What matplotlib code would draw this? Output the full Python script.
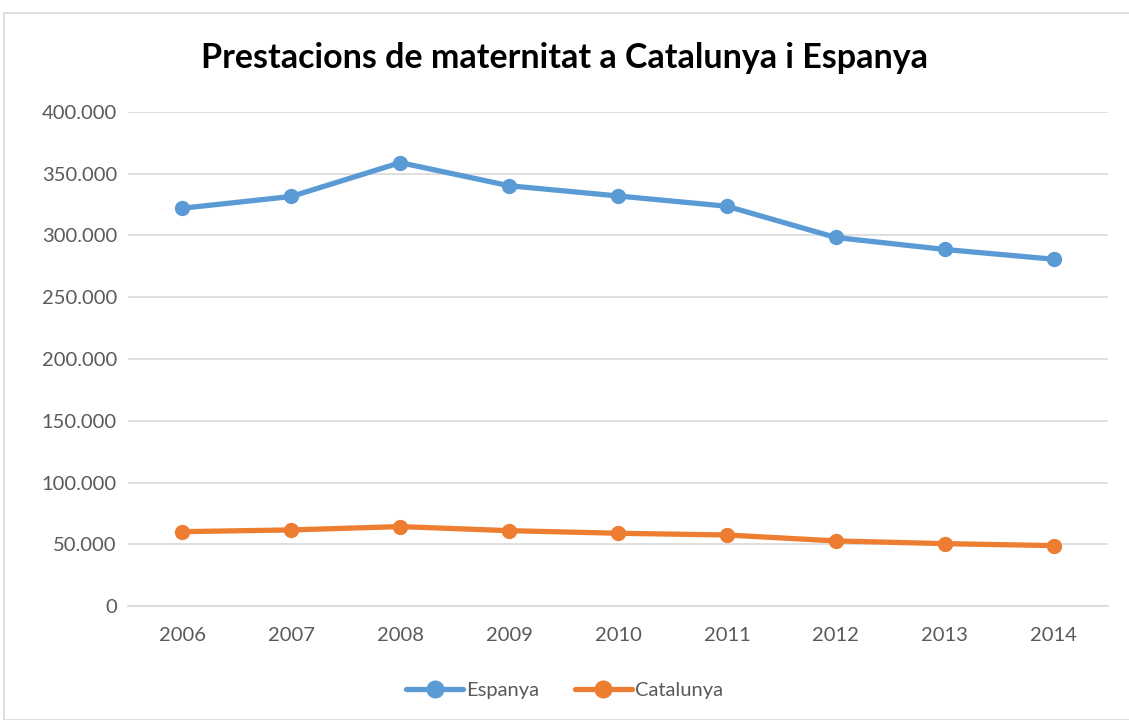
import matplotlib.pyplot as plt
from matplotlib.patches import Rectangle
from matplotlib.ticker import FuncFormatter

years = [2006, 2007, 2008, 2009, 2010, 2011, 2012, 2013, 2014]
espanya = [322100, 331600, 359000, 340300, 332000, 323700, 298400, 288700, 280800]
catalunya = [60200, 61600, 64300, 61000, 58900, 57500, 52700, 50500, 48900]

plt.rcParams['font.family'] = ['Lato', 'DejaVu Sans']

fig = plt.figure(figsize=(11.29, 7.2), dpi=100)
fig.patches.append(Rectangle((4 / 1129, 0), 1.2, 1 - 13 / 720, transform=fig.transFigure,
                             fill=False, edgecolor='#D9D9D9', linewidth=1.2))

ax = fig.add_axes([128 / 1129, 114 / 720, 980 / 1129, 494 / 720])
x = list(range(len(years)))
ax.plot(x, espanya, color='#5B9BD5', lw=3.8, marker='o', ms=10, label='Espanya', solid_capstyle='round')
ax.plot(x, catalunya, color='#ED7D31', lw=3.8, marker='o', ms=10, label='Catalunya', solid_capstyle='round')

ax.set_xlim(-0.5, len(years) - 0.5)
ax.set_ylim(0, 400000)
ax.set_yticks(range(0, 400001, 50000))
ax.yaxis.set_major_formatter(FuncFormatter(lambda v, p: f'{int(v):,}'.replace(',', '.')))
ax.set_xticks(x)
ax.set_xticklabels([str(y) for y in years])
ax.grid(axis='y', color='#D9D9D9', lw=1.2)
ax.set_axisbelow(True)
for s in ['top', 'right', 'left']:
    ax.spines[s].set_visible(False)
ax.spines['bottom'].set_color('#D9D9D9')
ax.spines['bottom'].set_linewidth(1.2)
ax.tick_params(length=0, labelsize=14.5, colors='#595959')
ax.tick_params(axis='x', pad=15)
ax.tick_params(axis='y', pad=8)

fig.text(0.5, 1 - 58 / 720, 'Prestacions de maternitat a Catalunya i Espanya',
         ha='center', va='center', fontsize=24.5, fontweight='bold', color='black')

fig.legend(loc='center', bbox_to_anchor=(0.5, 1 - 690 / 720), ncol=2, frameon=False,
           fontsize=14.5, labelcolor='#595959', handlelength=2.8, columnspacing=1.8,
           handletextpad=0.15, markerscale=1.2)

fig.savefig('out.png', dpi=100)
